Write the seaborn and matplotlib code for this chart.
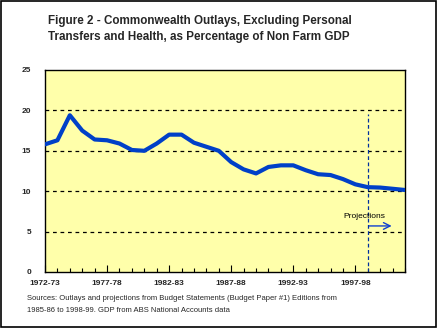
import matplotlib
matplotlib.use("Agg")
import matplotlib.pyplot as plt
import seaborn as sns
import pandas as pd
import numpy as np
from matplotlib.patches import Rectangle

years = [f"{y}-{str(y+1)[-2:]}" for y in range(1972, 2002)]
values = [15.8, 16.3, 19.4, 17.5, 16.4, 16.3, 15.9, 15.1, 15.0, 15.9,
          17.0, 17.0, 16.0, 15.5, 15.0, 13.6, 12.7, 12.2, 13.0, 13.2,
          13.2, 12.6, 12.1, 12.0, 11.5, 10.85, 10.5, 10.45, 10.3, 10.15]
yticks = [0, 5, 10, 15, 20, 25]
label_years = ["1972-73", "1977-78", "1982-83", "1987-88", "1992-93", "1997-98"]
proj_start = "1998-99"

df = pd.DataFrame({"idx": np.arange(len(years)), "year": years, "value": values})

sns.set_theme(style="white")
plt.rcParams['font.family'] = ['Liberation Sans', 'DejaVu Sans']

fig = plt.figure(figsize=(4.38, 3.29), dpi=100)
W, H = 438, 329
ax = fig.add_axes([45 / W, 1 - 272 / H, 360 / W, 202 / H])
ax.set_facecolor("#FFFFAA")

for yv in yticks[1:-1]:
    ax.axhline(yv, color="black", lw=0.9, ls=(0, (3, 3)), zorder=1)

sns.lineplot(data=df, x="idx", y="value", ax=ax, color="#0040C8", lw=3.0,
             zorder=3, legend=False)

pidx = years.index(proj_start)
ax.plot([pidx, pidx], [0, 19.6], color="#0030A0", lw=0.9, ls=(0, (3, 2)), zorder=2)
ax.annotate("", xy=(pidx + 2.15, 5.7), xytext=(pidx - 0.1, 5.7),
            arrowprops=dict(arrowstyle="->", color="#1040D0", lw=1.0), zorder=4)
ax.text(pidx - 2.0, 6.9, "Projections", fontsize=6, va="center", ha="left", color="black")

ax.set_xlim(0, len(years) - 1)
ax.set_ylim(0, 25)
ax.set_yticks(yticks)
ax.set_yticklabels([str(v) for v in yticks], fontsize=6, fontweight="bold")
ax.set_xticks([years.index(y) for y in label_years])
ax.set_xticklabels(label_years, fontsize=6, fontweight="bold")
ax.set_xticks(np.arange(len(years)), minor=True)
ax.tick_params(axis="x", which="major", direction="in", length=5, width=0.8,
               color="black", pad=6, bottom=True)
ax.tick_params(axis="x", which="minor", direction="in", length=3, width=0.8,
               color="black", bottom=True)
ax.tick_params(axis="y", which="both", length=0, pad=10)
ax.set_xlabel("")
ax.set_ylabel("")
for s in ax.spines.values():
    s.set_color("black")
    s.set_linewidth(1.0)

fig.text(200 / W, 1 - 21 / H, "Figure 2 - Commonwealth Outlays, Excluding Personal",
         ha="center", va="center", fontsize=8.4, fontweight="bold")
fig.text(199 / W, 1 - 37 / H, "Transfers and Health, as Percentage of Non Farm GDP",
         ha="center", va="center", fontsize=8.4, fontweight="bold")
fig.text(27 / W, 1 - 299 / H,
         "Sources: Outlays and projections from Budget Statements (Budget Paper #1) Editions from",
         ha="left", va="center", fontsize=5.5)
fig.text(27 / W, 1 - 310 / H,
         "1985-86 to 1998-99. GDP from ABS National Accounts data",
         ha="left", va="center", fontsize=5.5)

fig.patches.append(Rectangle((0.5 / W, 1 - 327 / H), 435 / W, 326 / H,
                             transform=fig.transFigure, fill=False,
                             edgecolor="black", lw=1.2))

fig.savefig("out.png", dpi=100, facecolor="white")
